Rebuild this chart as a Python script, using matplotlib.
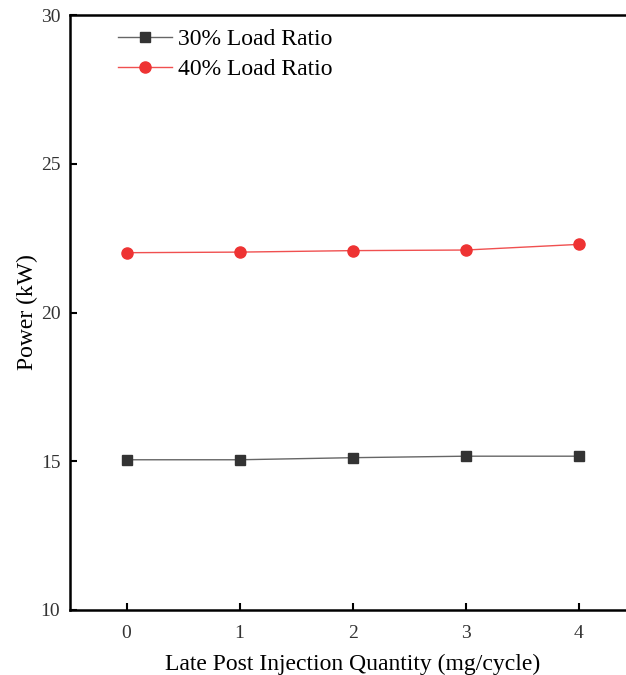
import matplotlib.pyplot as plt

# Power vs. late post injection quantity
injection = [0, 1, 2, 3, 4]
power_30 = [15.05, 15.05, 15.12, 15.17, 15.17]
power_40 = [22.01, 22.03, 22.08, 22.10, 22.29]
x_ticks = [0, 1, 2, 3, 4]
y_ticks = [10, 15, 20, 25, 30]

plt.rcParams['font.family'] = ['Liberation Serif', 'DejaVu Serif']

fig = plt.figure(figsize=(6.26, 6.75), dpi=100)
# axes run past the right edge of the canvas
ax = fig.add_axes([70 / 626, 65 / 675, 565.5 / 626, 595 / 675])

ax.plot(injection, power_30, color='#666666', lw=1.0, marker='s', ms=7,
        mfc='#333333', mec='#333333', label='30% Load Ratio')
ax.plot(injection, power_40, color='#f05050', lw=1.0, marker='o', ms=8,
        mfc='#ee3333', mec='#ee3333', label='40% Load Ratio')

ax.set_xlim(-0.5, 4.5)
ax.set_ylim(10, 30)
ax.set_xticks(x_ticks)
ax.set_yticks(y_ticks)
ax.tick_params(direction='in', length=5, width=1.5, labelsize=14,
               labelcolor='#333333', pad=7)
ax.tick_params(axis='x', pad=11)
for side in ax.spines.values():
    side.set_linewidth(1.8)

ax.set_xlabel('Late Post Injection Quantity (mg/cycle)', fontsize=17, labelpad=8)
ax.set_ylabel('Power (kW)', fontsize=17, labelpad=2)

ax.legend(loc='upper left', bbox_to_anchor=(0.085, 0.977), frameon=False,
          fontsize=17, handlelength=2.3, handletextpad=0.25,
          labelspacing=0.36, borderpad=0, borderaxespad=0)

fig.savefig('out.png', dpi=100)
